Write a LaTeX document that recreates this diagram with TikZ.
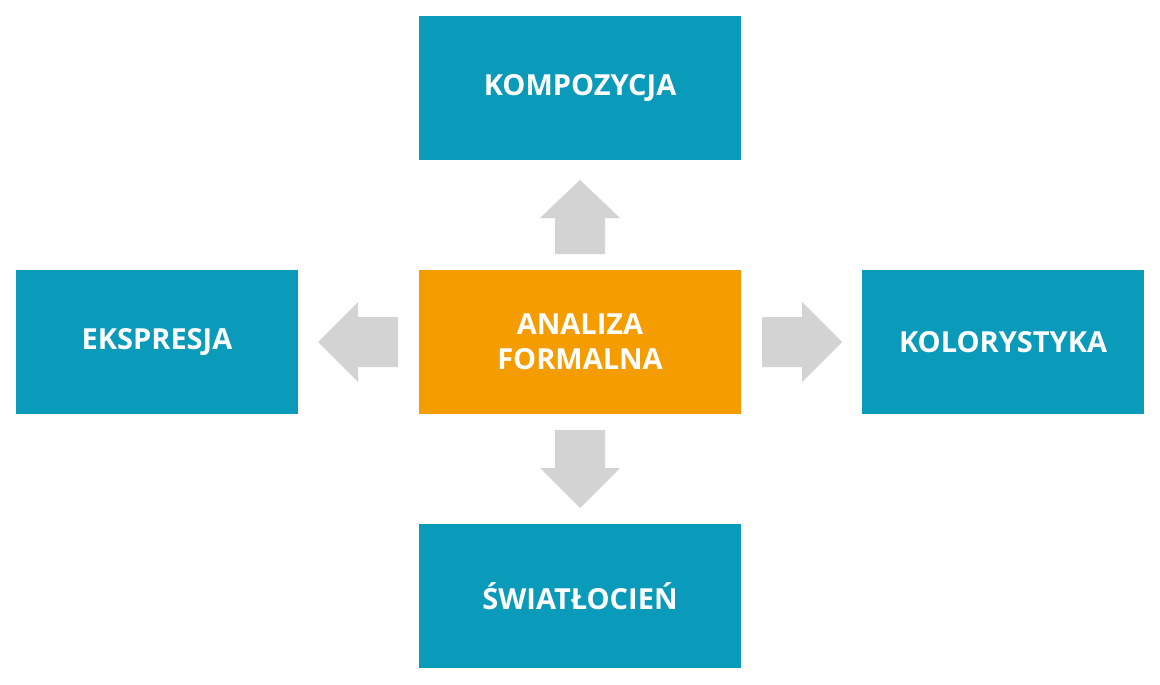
\documentclass[tikz,border=0pt]{standalone}
\usepackage{fontspec}
\setmainfont{Open Sans}
\definecolor{teal}{HTML}{0A9BBA}
\definecolor{orng}{HTML}{F59C00}
\definecolor{grayarrow}{HTML}{D3D3D3}
\begin{document}
\begin{tikzpicture}[x=1pt,y=-1pt,
  box/.style={draw=none,fill=teal,minimum width=322pt,minimum height=144pt,inner sep=0pt,
    text=white,font=\fontsize{29}{35}\selectfont\bfseries,align=center},
  sidebox/.style={box,minimum width=282pt},
  blk/.style={fill=grayarrow,draw=none}]
\useasboundingbox (0,0) rectangle (1160,685);
\fill[white] (0,0) rectangle (1160,685);
\node[box] (top) at (580,88) {KOMPOZYCJA};
\node[box,fill=orng] (mid) at (580,342) {ANALIZA\\FORMALNA};
\node[sidebox] (left) at (157,342) {EKSPRESJA};
\node[sidebox] (right) at (1003,342) {KOLORYSTYKA};
\node[box] (bot) at (580,596) {ŚWIATŁOCIEŃ};
% up arrow
\fill[blk] (555,254) -- (555,218) -- (540,218) -- (580,180) -- (620,218) -- (605,218) -- (605,254) -- cycle;
% down arrow
\fill[blk] (555,430) -- (555,468) -- (540,468) -- (580,508) -- (620,468) -- (605,468) -- (605,430) -- cycle;
% left arrow
\fill[blk] (398,317) -- (358,317) -- (358,302) -- (318,342) -- (358,382) -- (358,367) -- (398,367) -- cycle;
% right arrow
\fill[blk] (762,317) -- (802,317) -- (802,302) -- (842,342) -- (802,382) -- (802,367) -- (762,367) -- cycle;
\end{tikzpicture}
\end{document}
